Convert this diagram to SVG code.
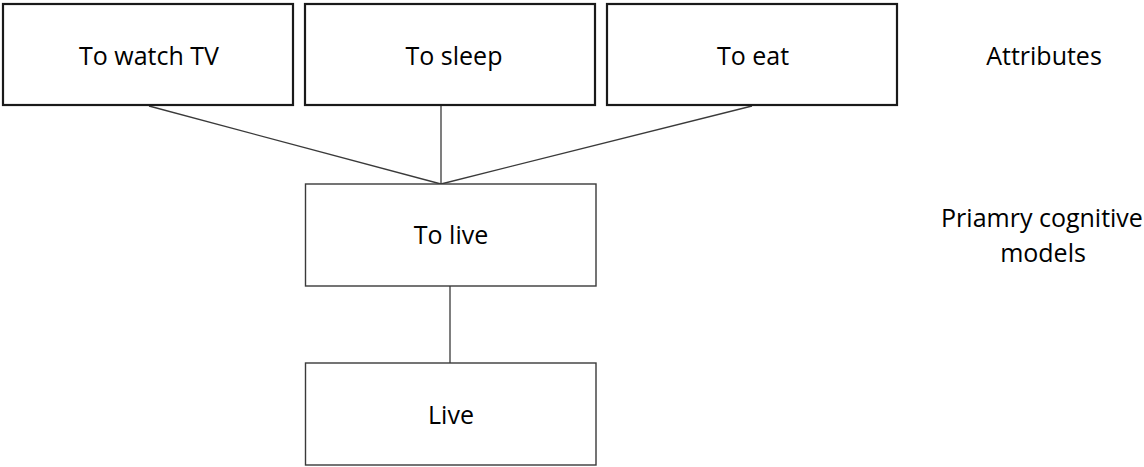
<svg xmlns="http://www.w3.org/2000/svg" width="1144" height="467" viewBox="0 0 1144 467">
<style>
.top{fill:#fff;stroke:#1a1a1a;stroke-width:2.2}
.box{fill:#fff;stroke:#3a3a3a;stroke-width:1.4}
.lbl{font-family:"Open Sans","Liberation Sans",sans-serif;font-size:25px;fill:#000;text-anchor:middle}
.conn line{stroke:#3a3a3a;stroke-width:1.3}
</style>
<rect width="1144" height="467" fill="#fff"/>
<g class="conn" id="connectors">
<line x1="149" y1="106" x2="441" y2="184"/>
<line x1="441" y1="106" x2="441" y2="184"/>
<line x1="752" y1="106" x2="441" y2="184"/>
<line x1="450" y1="286" x2="450" y2="363"/>
</g>
<g id="watch"><rect class="top" x="3" y="4" width="290" height="101"/><text class="lbl" x="149" y="65">To watch TV</text></g>
<g id="sleep"><rect class="top" x="305" y="4" width="290" height="101"/><text class="lbl" x="454" y="65">To sleep</text></g>
<g id="eat"><rect class="top" x="607" y="4" width="290" height="101"/><text class="lbl" x="753" y="65">To eat</text></g>
<g id="tolive"><rect class="box" x="305.5" y="184" width="290.5" height="102"/><text class="lbl" x="451" y="244">To live</text></g>
<g id="live"><rect class="box" x="305.5" y="363" width="290.5" height="102"/><text class="lbl" x="451" y="424">Live</text></g>
<g id="attributes"><text class="lbl" x="1044" y="65">Attributes</text></g>
<g id="models"><text class="lbl" x="1042" y="227">Priamry cognitive</text><text class="lbl" x="1043" y="262">models</text></g>
</svg>
